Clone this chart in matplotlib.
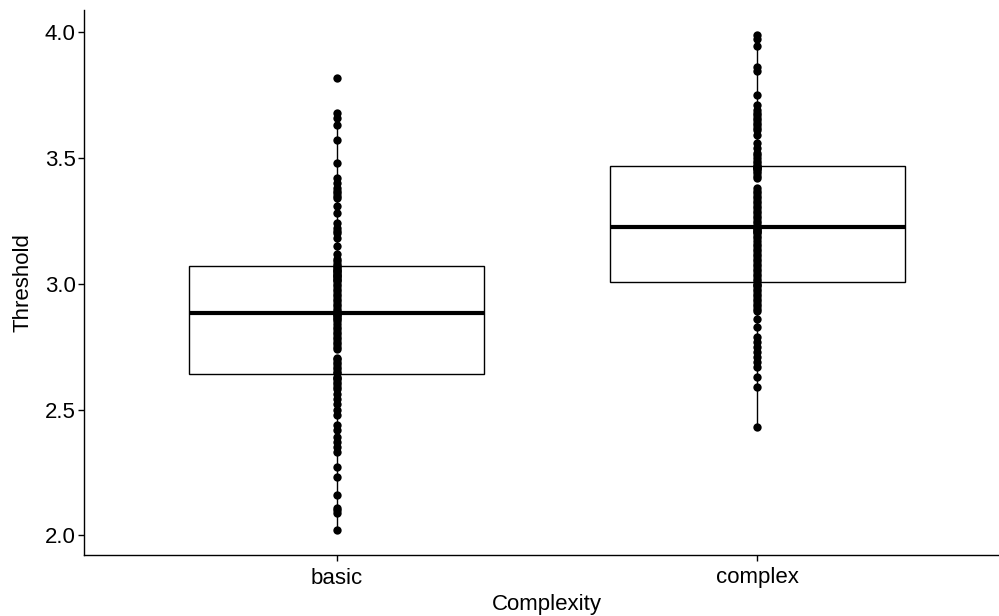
import numpy as np
import matplotlib
matplotlib.use("Agg")
import matplotlib.pyplot as plt

# -----------------------------------
# Data
# -----------------------------------
categories = ["basic", "complex"]

basic = [
    2.02, 2.09, 2.10, 2.11, 2.16, 2.23, 2.27, 2.33, 2.35, 2.37,
    2.39, 2.42, 2.44, 2.48, 2.50, 2.52, 2.54, 2.56, 2.58, 2.59,
    2.60, 2.61, 2.62, 2.625, 2.63,
    2.645, 2.65, 2.66, 2.67, 2.68, 2.69, 2.70, 2.705, 2.74, 2.75,
    2.76, 2.77, 2.78, 2.79, 2.80, 2.81, 2.82, 2.83, 2.84, 2.85,
    2.86, 2.865, 2.87, 2.875, 2.88,
    2.89, 2.90, 2.91, 2.92, 2.93, 2.94, 2.95, 2.96, 2.97, 2.98,
    2.99, 3.00, 3.01, 3.015, 3.02, 3.025, 3.03, 3.035, 3.04, 3.045,
    3.05, 3.055, 3.06, 3.065, 3.07,
    3.08, 3.09, 3.10, 3.12, 3.15, 3.18, 3.20, 3.21, 3.22, 3.24,
    3.28, 3.31, 3.34, 3.35, 3.36, 3.37, 3.38, 3.40, 3.42, 3.48,
    3.57, 3.63, 3.66, 3.68, 3.82,
]

complex_ = [
    2.43, 2.59, 2.63, 2.67, 2.69, 2.71, 2.73, 2.75, 2.77, 2.79,
    2.83, 2.86, 2.89, 2.90, 2.91, 2.92, 2.93, 2.94, 2.95, 2.96,
    2.97, 2.98, 2.99, 2.995, 3.00,
    3.01, 3.02, 3.03, 3.04, 3.05, 3.06, 3.07, 3.08, 3.09, 3.10,
    3.11, 3.12, 3.13, 3.14, 3.15, 3.16, 3.17, 3.18, 3.19, 3.20,
    3.205, 3.21, 3.215, 3.22, 3.22,
    3.23, 3.24, 3.25, 3.26, 3.27, 3.28, 3.29, 3.30, 3.31, 3.32,
    3.33, 3.34, 3.35, 3.36, 3.37, 3.38, 3.42, 3.43, 3.44, 3.45,
    3.455, 3.46, 3.46, 3.465, 3.47,
    3.47, 3.48, 3.49, 3.50, 3.51, 3.52, 3.54, 3.56, 3.59, 3.61,
    3.62, 3.63, 3.64, 3.65, 3.66, 3.67, 3.68, 3.69, 3.71, 3.75,
    3.845, 3.86, 3.945, 3.975, 3.99,
]

groups = [basic, complex_]
y_ticks = [2.0, 2.5, 3.0, 3.5, 4.0]

# -----------------------------------
# Plot
# -----------------------------------
plt.rcParams["font.family"] = ["Liberation Sans", "DejaVu Sans"]

fig = plt.figure(figsize=(9.99, 6.16), dpi=100)
ax = fig.add_axes([84 / 999, 1 - 555 / 616, (1010 - 84) / 999, (555 - 10) / 616])

positions = np.arange(1, len(categories) + 1)

ax.boxplot(
    groups,
    positions=positions,
    widths=0.7,
    whis=1.5,
    showfliers=False,
    showcaps=False,
    patch_artist=True,
    boxprops=dict(facecolor="white", edgecolor="black", linewidth=1.0),
    whiskerprops=dict(color="black", linewidth=1.0),
    medianprops=dict(color="black", linewidth=3.0),
    zorder=1,
)

for pos, vals in zip(positions, groups):
    ax.plot(np.full(len(vals), pos), vals, "o", color="black",
            markersize=6, markeredgewidth=0, zorder=3)

ax.set_xlim(0.4, 2.6)
ax.set_ylim(1.9215, 4.0885)
ax.set_xticks(positions)
ax.set_xticklabels(categories)
ax.set_yticks(y_ticks)
ax.set_yticklabels([f"{t:.1f}" for t in y_ticks])

ax.set_xlabel("Complexity", fontsize=16, labelpad=4)
ax.set_ylabel("Threshold", fontsize=16, labelpad=8)

for side in ["top", "right"]:
    ax.spines[side].set_visible(False)
for side in ["left", "bottom"]:
    ax.spines[side].set_linewidth(1.0)
    ax.spines[side].set_color("black")

ax.tick_params(axis="both", labelsize=16, length=4, width=1.0,
               colors="black", direction="out")
ax.tick_params(axis="x", pad=5)
ax.tick_params(axis="y", pad=2)

fig.savefig("out.png", dpi=100)
plt.close(fig)
